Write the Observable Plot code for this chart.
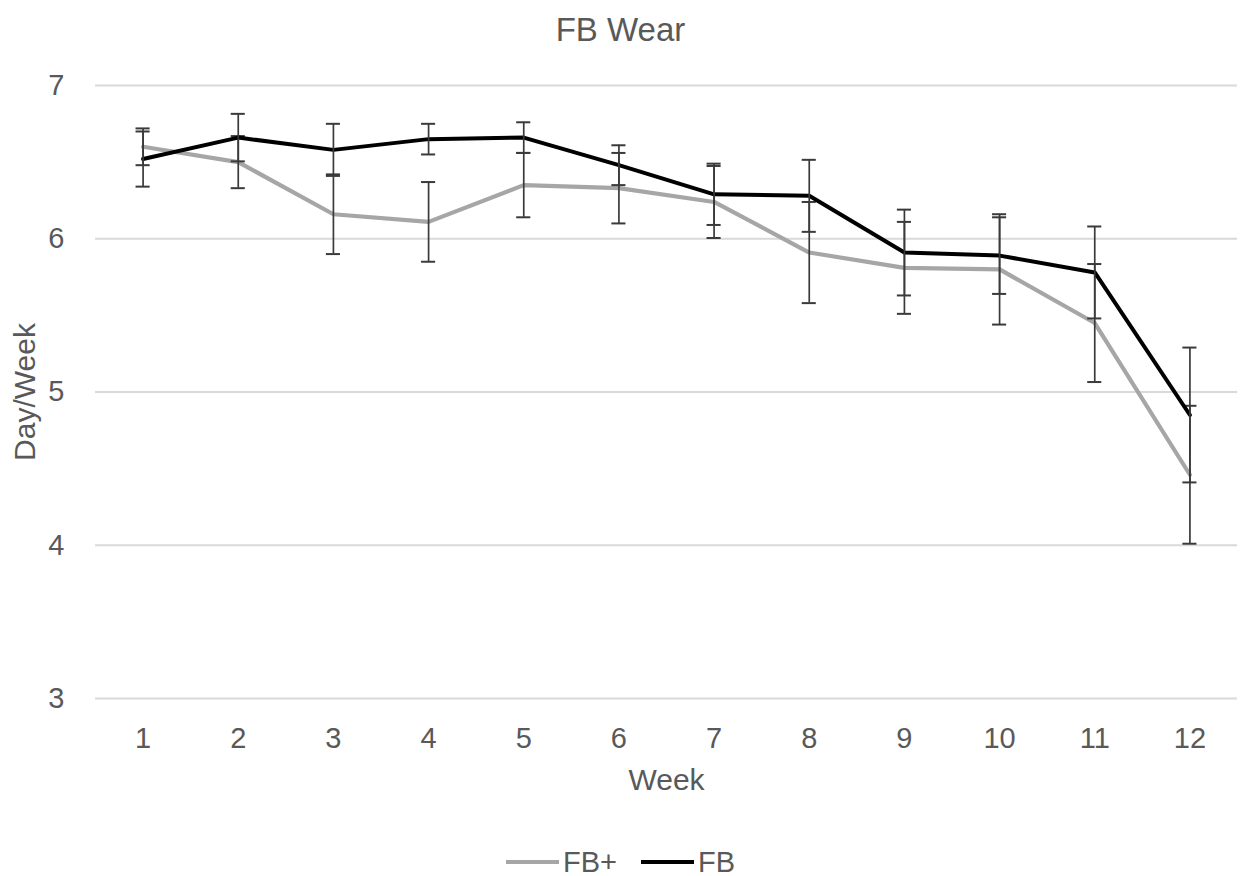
<!DOCTYPE html>
<html>
<head>
<meta charset="utf-8">
<script src="https://cdn.jsdelivr.net/npm/d3@7"></script>
<script src="https://cdn.jsdelivr.net/npm/@observablehq/plot@0.6"></script>
<style>
  html, body { margin: 0; padding: 0; background: #fff; }
  body { width: 1241px; height: 876px; overflow: hidden; font-family: "Liberation Sans", Arial, sans-serif; color: #595959; }
  #title { height: 58px; line-height: 60px; text-align: center; font-size: 33px; padding-left: 0px; }
  #legend { height: 88px; display: flex; justify-content: center; align-items: center; font-size: 29px; gap: 0; }
  .item { display: flex; align-items: center; margin: 0 12px; }
  .sw { width: 53px; height: 4px; margin-right: 4px; }
  svg { display: block; }
</style>
</head>
<body>
<div id="title">FB Wear</div>
<div id="chart"></div>
<div id="legend"></div>
<script>
const weeks = [1, 2, 3, 4, 5, 6, 7, 8, 9, 10, 11, 12];
const fbPlus = [6.60, 6.50, 6.16, 6.11, 6.35, 6.33, 6.24, 5.91, 5.81, 5.80, 5.45, 4.46];
const fbPlusErr = [0.12, 0.17, 0.26, 0.26, 0.21, 0.23, 0.235, 0.33, 0.30, 0.36, 0.385, 0.45];
const fb = [6.52, 6.66, 6.58, 6.65, 6.66, 6.48, 6.29, 6.28, 5.91, 5.89, 5.78, 4.85];
const fbErr = [0.18, 0.155, 0.17, 0.10, 0.10, 0.13, 0.20, 0.235, 0.28, 0.25, 0.30, 0.44];
const yTicks = [3, 4, 5, 6, 7];
const seriesNames = ["FB+", "FB"];
const seriesColors = ["#a6a6a6", "#000000"];

const rows = (vals, errs) => weeks.map((w, i) => ({week: w, v: vals[i], lo: vals[i] - errs[i], hi: vals[i] + errs[i]}));
const dPlus = rows(fbPlus, fbPlusErr);
const dFb = rows(fb, fbErr);
const capHalf = 0.074;
const errColor = "#3a3a3a";

function errMarks(data) {
  return [
    Plot.ruleX(data, {x: "week", y1: "lo", y2: "hi", stroke: errColor, strokeWidth: 1.7}),
    Plot.ruleY(data, {y: "hi", x1: d => d.week - capHalf, x2: d => d.week + capHalf, stroke: errColor, strokeWidth: 2}),
    Plot.ruleY(data, {y: "lo", x1: d => d.week - capHalf, x2: d => d.week + capHalf, stroke: errColor, strokeWidth: 2})
  ];
}

const chart = Plot.plot({
  width: 1241,
  height: 760,
  marginLeft: 95,
  marginRight: 4,
  marginTop: 27,
  marginBottom: 120,
  style: {fontFamily: "Liberation Sans, Arial, sans-serif", fontSize: "29px", color: "#595959", background: "#fff"},
  x: {domain: [0.5, 12.5], ticks: weeks, tickFormat: d => String(d)},
  y: {domain: [3, 7], ticks: yTicks, tickFormat: d => String(d)},
  marks: [
    Plot.gridY(yTicks, {stroke: "#d9d9d9", strokeWidth: 2, strokeOpacity: 1}),
    Plot.axisY(yTicks, {tickSize: 0, tickPadding: 31, label: null, fill: "#595959", tickFormat: d => String(d)}),
    Plot.axisX(weeks, {tickSize: 0, tickPadding: 29, label: null, fill: "#595959", tickFormat: d => String(d)}),
    Plot.text(["Week"], {frameAnchor: "bottom", dy: 82, dx: 0, fill: "#595959", fontSize: 30, lineAnchor: "middle"}),
    Plot.text(["Day/Week"], {frameAnchor: "left", dx: -70, rotate: -90, fill: "#595959", fontSize: 30, lineAnchor: "middle", textAnchor: "middle"}),
    Plot.line(dPlus, {x: "week", y: "v", stroke: seriesColors[0], strokeWidth: 4.2}),
    ...errMarks(dPlus),
    Plot.line(dFb, {x: "week", y: "v", stroke: seriesColors[1], strokeWidth: 4}),
    ...errMarks(dFb)
  ]
});
document.getElementById("chart").appendChild(chart);

const legend = document.getElementById("legend");
seriesNames.forEach((n, i) => {
  const it = document.createElement("div");
  it.className = "item";
  const sw = document.createElement("div");
  sw.className = "sw";
  sw.style.background = seriesColors[i];
  const t = document.createElement("span");
  t.textContent = n;
  it.appendChild(sw);
  it.appendChild(t);
  legend.appendChild(it);
});
</script>
</body>
</html>
